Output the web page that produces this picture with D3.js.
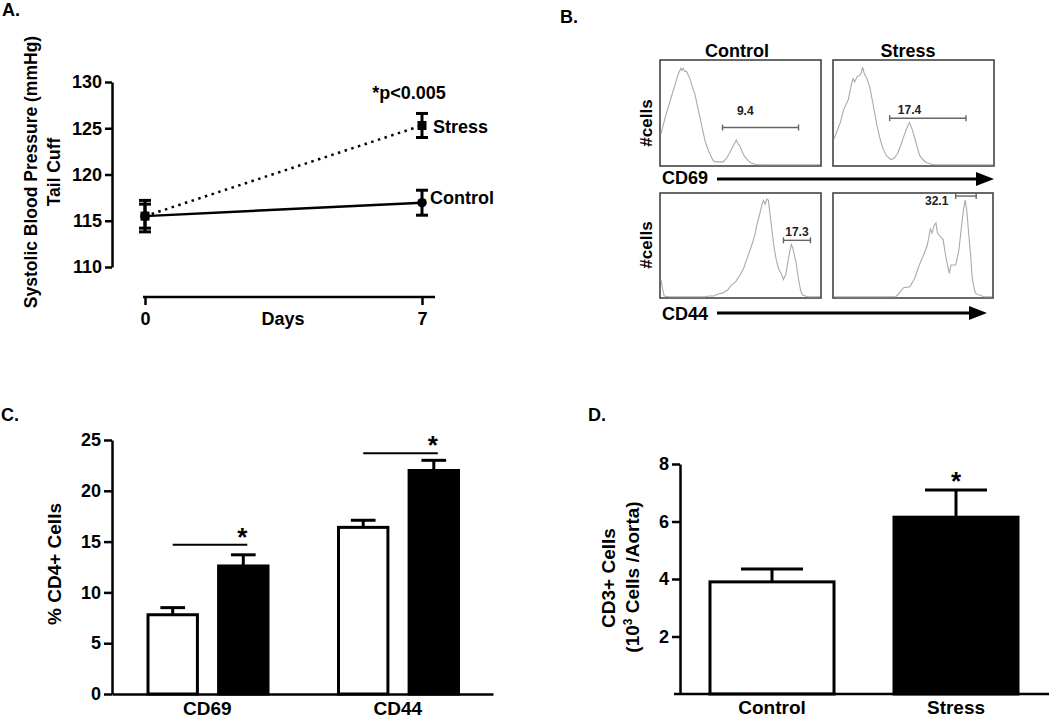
<!DOCTYPE html>
<html><head><meta charset="utf-8">
<script src="https://cdn.jsdelivr.net/npm/d3@7"></script>
<style>
html,body{margin:0;padding:0;background:#fff;}
svg{display:block;}
</style></head><body>
<svg id="chart" width="1050" height="719"></svg>
<script>
// ---------------- DATA ----------------
// Panel A: systolic blood pressure (tail cuff)
const bpDays = [0, 7];
const bpControl = [115.5, 116.95];
const bpControlErr = [1.3, 1.35];
const bpStress = [115.5, 125.3];
const bpStressErr = [1.7, 1.3];
const bpTicks = [110, 115, 120, 125, 130];

// Panel B: flow cytometry histograms (relative fluorescence, relative count)
const flowConditions = ["Control", "Stress"];
const flowMarkers = ["CD69", "CD44"];
const histCD69Control = [[0,0.30],[0.027,0.46],[0.058,0.62],[0.09,0.78],[0.105,0.86],[0.116,0.9],[0.125,0.93],[0.13,0.91],[0.14,0.93],[0.15,0.9],[0.16,0.9],[0.18,0.84],[0.2,0.74],[0.214,0.68],[0.23,0.56],[0.245,0.46],[0.26,0.35],[0.276,0.24],[0.29,0.17],[0.31,0.1],[0.325,0.05],[0.34,0.03],[0.39,0.03],[0.41,0.06],[0.43,0.11],[0.45,0.17],[0.474,0.24],[0.485,0.2],[0.495,0.19],[0.51,0.13],[0.526,0.08],[0.55,0.04],[0.57,0.016],[0.6,0.005],[0.65,0.003],[1,0.003]];
const histCD69Stress = [[0,0.25],[0.02,0.33],[0.04,0.41],[0.06,0.53],[0.075,0.58],[0.09,0.63],[0.11,0.78],[0.12,0.83],[0.13,0.8],[0.146,0.85],[0.16,0.86],[0.17,0.88],[0.18,0.94],[0.19,0.88],[0.205,0.84],[0.225,0.75],[0.24,0.63],[0.256,0.5],[0.27,0.38],[0.29,0.25],[0.31,0.15],[0.33,0.09],[0.36,0.05],[0.38,0.07],[0.40,0.11],[0.42,0.19],[0.44,0.28],[0.46,0.36],[0.475,0.41],[0.49,0.35],[0.51,0.25],[0.525,0.16],[0.54,0.09],[0.56,0.05],[0.58,0.025],[0.62,0.005],[0.65,0.003],[1,0.003]];
const histCD44Control = [[0,0.17],[0.01,0.08],[0.02,0.01],[0.05,0.003],[0.28,0.003],[0.3,0.01],[0.33,0.01],[0.36,0.03],[0.39,0.04],[0.42,0.07],[0.44,0.11],[0.47,0.15],[0.5,0.22],[0.52,0.28],[0.54,0.37],[0.57,0.5],[0.59,0.6],[0.60,0.68],[0.62,0.8],[0.635,0.9],[0.645,0.94],[0.655,0.9],[0.665,0.95],[0.675,0.94],[0.69,0.75],[0.71,0.49],[0.725,0.36],[0.74,0.27],[0.755,0.23],[0.77,0.17],[0.785,0.22],[0.80,0.36],[0.815,0.48],[0.82,0.51],[0.83,0.47],[0.85,0.33],[0.865,0.17],[0.88,0.05],[0.89,0.02],[0.92,0.003],[1,0.003]];
const histCD44Stress = [[0,0.003],[0.39,0.003],[0.41,0.03],[0.44,0.09],[0.48,0.1],[0.51,0.18],[0.54,0.31],[0.57,0.42],[0.59,0.5],[0.61,0.66],[0.62,0.62],[0.635,0.7],[0.645,0.72],[0.655,0.62],[0.67,0.59],[0.69,0.56],[0.71,0.37],[0.72,0.3],[0.73,0.23],[0.74,0.31],[0.77,0.31],[0.79,0.45],[0.805,0.66],[0.82,0.85],[0.83,0.94],[0.84,0.85],[0.85,0.66],[0.865,0.4],[0.875,0.18],[0.89,0.06],[0.9,0.03],[0.95,0.003],[1,0.003]];
// gates: [start, end, level]
const gateCD69Control = [0.387, 0.865, 0.36];
const gateCD69Stress = [0.35, 0.83, 0.45];
const gateCD44Control = [0.77, 0.94, 0.55];
const gateCD44Stress = [0.77, 0.90, 0.98];
const gateLabels = ["9.4", "17.4", "17.3", "32.1"];

// Panel C: % CD4+ cells
const pctCategories = ["CD69", "CD44"];
const pctControl = [7.8, 16.4];
const pctControlErr = [0.7, 0.7];
const pctStress = [12.6, 22.0];
const pctStressErr = [1.1, 1.0];
const pctSigLevel = [14.7, 23.7];
const pctTicks = [0, 5, 10, 15, 20, 25];

// Panel D: CD3+ cells per aorta
const cd3Categories = ["Control", "Stress"];
const cd3Values = [3.9, 6.15];
const cd3Err = [0.45, 0.95];
const cd3Ticks = [2, 4, 6, 8];

// ---------------- DRAWING ----------------
const FONT = '"Liberation Sans", Arial, Helvetica, sans-serif';
const svg = d3.select("#chart");

function txt(x, y, s, fs, anchor, rot) {
  const t = svg.append("text")
    .attr("font-family", FONT).attr("font-weight", "bold")
    .attr("font-size", fs).attr("fill", "#000")
    .attr("text-anchor", anchor || "start");
  if (rot) t.attr("transform", `translate(${x},${y}) rotate(${rot})`);
  else t.attr("x", x).attr("y", y);
  t.text(s);
  return t;
}
function styleAxis(g, fs) {
  g.attr("font-family", null).attr("font-size", null);
  g.selectAll("path,line").attr("stroke", "#000").attr("stroke-width", 2.5);
  g.selectAll("text").attr("font-size", fs).attr("font-weight", "bold")
    .attr("font-family", FONT).attr("fill", "#000");
}

// panel letters
txt(2, 16, "A.", 18);
txt(560, 23, "B.", 18);
txt(1, 421, "C.", 18);
txt(588, 421, "D.", 18);

// ===== Panel A =====
const xA = d3.scaleLinear().domain([0, 7]).range([145, 422]);
const yA = d3.scaleLinear().domain([110, 130]).range([267, 82]);
const gAy = svg.append("g").attr("transform", "translate(112,0)")
  .call(d3.axisLeft(yA).tickValues(bpTicks).tickSize(7).tickSizeOuter(0).tickPadding(3).tickFormat(d3.format("d")));
styleAxis(gAy, 18);
const gAx = svg.append("g").attr("transform", "translate(0,297)")
  .call(d3.axisBottom(xA).tickValues(bpDays).tickSize(8).tickSizeOuter(0).tickPadding(7).tickFormat(d3.format("d")));
gAx.select(".domain").remove();
gAx.append("line").attr("x1", xA(0) - 2).attr("x2", xA(7) + 13).attr("y1", 0).attr("y2", 0);
styleAxis(gAx, 18);
txt(283, 325, "Days", 18, "middle");
txt(37, 172, "Systolic Blood Pressure (mmHg)", 17.5, "middle", -90);
txt(60, 172, "Tail Cuff", 17.5, "middle", -90);

const lineA = d3.line().x((d, i) => xA(bpDays[i])).y(d => yA(d));
svg.append("path").datum(bpStress).attr("d", lineA)
  .attr("fill", "none").attr("stroke", "#000").attr("stroke-width", 2.5)
  .attr("stroke-dasharray", "2.5,4.5");
svg.append("path").datum(bpControl).attr("d", lineA)
  .attr("fill", "none").attr("stroke", "#000").attr("stroke-width", 2.5);

function errA(vals, errs) {
  const g = svg.append("g").attr("stroke", "#000").attr("stroke-width", 3);
  vals.forEach((v, i) => {
    const x = xA(bpDays[i]);
    g.append("line").attr("x1", x).attr("x2", x).attr("y1", yA(v - errs[i])).attr("y2", yA(v + errs[i]));
    [v - errs[i], v + errs[i]].forEach(e => {
      g.append("line").attr("x1", x - 6).attr("x2", x + 6).attr("y1", yA(e)).attr("y2", yA(e));
    });
  });
}
errA(bpStress, bpStressErr);
errA(bpControl, bpControlErr);
svg.selectAll(".sqA").data(bpStress).join("rect")
  .attr("x", (d, i) => xA(bpDays[i]) - 4.5).attr("y", d => yA(d) - 4.5)
  .attr("width", 9).attr("height", 9).attr("fill", "#000");
svg.selectAll(".ciA").data(bpControl).join("circle")
  .attr("cx", (d, i) => xA(bpDays[i])).attr("cy", d => yA(d)).attr("r", 4.8).attr("fill", "#000");
txt(433, yA(bpStress[1]) + 8, "Stress", 18);
txt(430, yA(bpControl[1]) + 1, "Control", 18);
txt(409, 99, "*p<0.005", 18, "middle");

// ===== Panel B =====
const boxes = [
  { x0: 660, x1: 821, y0: 60, y1: 166, hist: histCD69Control, gate: gateCD69Control, lab: gateLabels[0], lx: 0.53, ly: 0.48 },
  { x0: 833, x1: 994, y0: 60, y1: 166, hist: histCD69Stress, gate: gateCD69Stress, lab: gateLabels[1], lx: 0.475, ly: 0.49 },
  { x0: 660, x1: 821, y0: 193, y1: 298, hist: histCD44Control, gate: gateCD44Control, lab: gateLabels[2], lx: 0.855, ly: 0.59 },
  { x0: 833, x1: 993, y0: 193, y1: 298, hist: histCD44Stress, gate: gateCD44Stress, lab: gateLabels[3], lx: 0.65, ly: 0.89 }
];
boxes.forEach(b => {
  const xs = d3.scaleLinear().domain([0, 1]).range([b.x0 + 1, b.x1 - 1]);
  const ys = d3.scaleLinear().domain([0, 1]).range([b.y1 - 1, b.y0 + 1]);
  svg.append("rect").attr("x", b.x0).attr("y", b.y0).attr("width", b.x1 - b.x0).attr("height", b.y1 - b.y0)
    .attr("fill", "#fff").attr("stroke", "#444").attr("stroke-width", 1.6);
  svg.append("path").datum(b.hist)
    .attr("d", d3.line().x(d => xs(d[0])).y(d => ys(d[1])))
    .attr("fill", "none").attr("stroke", "#aaa").attr("stroke-width", 1.1);
  const gy = ys(b.gate[2]);
  const gg = svg.append("g").attr("stroke", "#666").attr("stroke-width", 1.4);
  gg.append("line").attr("x1", xs(b.gate[0])).attr("x2", xs(b.gate[1])).attr("y1", gy).attr("y2", gy);
  [b.gate[0], b.gate[1]].forEach(g0 => gg.append("line").attr("x1", xs(g0)).attr("x2", xs(g0)).attr("y1", gy - 3).attr("y2", gy + 3));
  txt(xs(b.lx), ys(b.ly), b.lab, 12, "middle").attr("fill", "#222");
});
txt(737, 57, flowConditions[0], 18, "middle");
txt(908, 57, flowConditions[1], 18, "middle");
txt(652, 123, "#cells", 17, "middle", -90);
txt(652, 245, "#cells", 17, "middle", -90);
txt(662, 184, flowMarkers[0], 18);
txt(662, 320, flowMarkers[1], 18);
function arrow(x1, x2, y) {
  svg.append("line").attr("x1", x1).attr("x2", x2 - 14).attr("y1", y).attr("y2", y)
    .attr("stroke", "#000").attr("stroke-width", 3);
  svg.append("path").attr("d", `M${x2 - 18},${y - 7}L${x2},${y}L${x2 - 18},${y + 7}Z`).attr("fill", "#000");
}
arrow(717, 994, 179);
arrow(717, 987, 313);

// ===== Panel C =====
const x0C = d3.scaleBand().domain(pctCategories).range([112, 493]);
const x1C = d3.scaleBand().domain(flowConditions).range([36, 156]).paddingInner(0.3);
const yC = d3.scaleLinear().domain([0, 25]).range([694, 440]);
const gCy = svg.append("g").attr("transform", "translate(112,0)")
  .call(d3.axisLeft(yC).tickValues(pctTicks).tickSize(8).tickSizeOuter(0).tickPadding(3));
styleAxis(gCy, 18);
const gCx = svg.append("g").attr("transform", "translate(0,694)")
  .call(d3.axisBottom(x0C).tickSize(0).tickSizeOuter(0).tickPadding(7.5));
styleAxis(gCx, 19);
txt(61, 564, "% CD4+ Cells", 19, "middle", -90);

const bwC = x1C.bandwidth();
function barsC(vals, errs, cond, fill) {
  pctCategories.forEach((c, i) => {
    const x = x0C(c) + x1C(cond), cx = x + bwC / 2;
    const ge = svg.append("g").attr("stroke", "#000").attr("stroke-width", 3);
    ge.append("line").attr("x1", cx).attr("x2", cx).attr("y1", yC(vals[i])).attr("y2", yC(vals[i] + errs[i]));
    ge.append("line").attr("x1", cx - bwC / 4).attr("x2", cx + bwC / 4).attr("y1", yC(vals[i] + errs[i])).attr("y2", yC(vals[i] + errs[i]));
    svg.append("rect").attr("x", x).attr("y", yC(vals[i])).attr("width", bwC).attr("height", yC(0) - yC(vals[i]))
      .attr("fill", fill).attr("stroke", "#000").attr("stroke-width", 3);
  });
}
barsC(pctControl, pctControlErr, "Control", "#fff");
barsC(pctStress, pctStressErr, "Stress", "#000");
pctCategories.forEach((c, i) => {
  const xa = x0C(c) + x1C("Control") + bwC / 2, xb = x0C(c) + x1C("Stress") + bwC / 2 + 4;
  svg.append("line").attr("x1", xa).attr("x2", xb).attr("y1", yC(pctSigLevel[i])).attr("y2", yC(pctSigLevel[i]))
    .attr("stroke", "#000").attr("stroke-width", 2);
  txt(xb - 5, yC(pctSigLevel[i]) + 1, "*", 26, "middle");
});
gCy.raise(); gCx.raise();

// ===== Panel D =====
const xD = d3.scaleBand().domain(cd3Categories).range([680, 1048]).paddingInner(0.326).paddingOuter(0.163);
const yD = d3.scaleLinear().domain([0, 8]).range([694, 464]);
const gDy = svg.append("g").attr("transform", "translate(680,0)")
  .call(d3.axisLeft(yD).tickValues(cd3Ticks).tickSize(8).tickSizeOuter(0).tickPadding(3));
styleAxis(gDy, 18);
const gDx = svg.append("g").attr("transform", "translate(0,694)")
  .call(d3.axisBottom(xD).tickSize(0).tickSizeOuter(0).tickPadding(7));
gDx.select(".domain").remove();
gDx.append("line").attr("x1", 674).attr("x2", 1049).attr("y1", 0).attr("y2", 0);
styleAxis(gDx, 19);
const bwD = xD.bandwidth();
cd3Categories.forEach((c, i) => {
  const x = xD(c), cx = x + bwD / 2, v = cd3Values[i], e = cd3Err[i];
  const ge = svg.append("g").attr("stroke", "#000").attr("stroke-width", 3);
  ge.append("line").attr("x1", cx).attr("x2", cx).attr("y1", yD(v)).attr("y2", yD(v + e));
  ge.append("line").attr("x1", cx - bwD / 4).attr("x2", cx + bwD / 4).attr("y1", yD(v + e)).attr("y2", yD(v + e));
  svg.append("rect").attr("x", x).attr("y", yD(v)).attr("width", bwD).attr("height", yD(0) - yD(v))
    .attr("fill", i === 0 ? "#fff" : "#000").attr("stroke", "#000").attr("stroke-width", 3);
});
txt(xD("Stress") + bwD / 2, yD(cd3Values[1] + cd3Err[1]) + 0, "*", 26, "middle");
txt(615, 578, "CD3+ Cells", 19, "middle", -90);
const t2 = txt(639, 577, "(10", 19, "middle", -90);
t2.text(null);
t2.append("tspan").text("(10");
t2.append("tspan").attr("font-size", 12).attr("dy", -7).text("3");
t2.append("tspan").attr("dy", 7).text(" Cells /Aorta)");
gDy.raise(); gDx.raise();
</script>
</body></html>
